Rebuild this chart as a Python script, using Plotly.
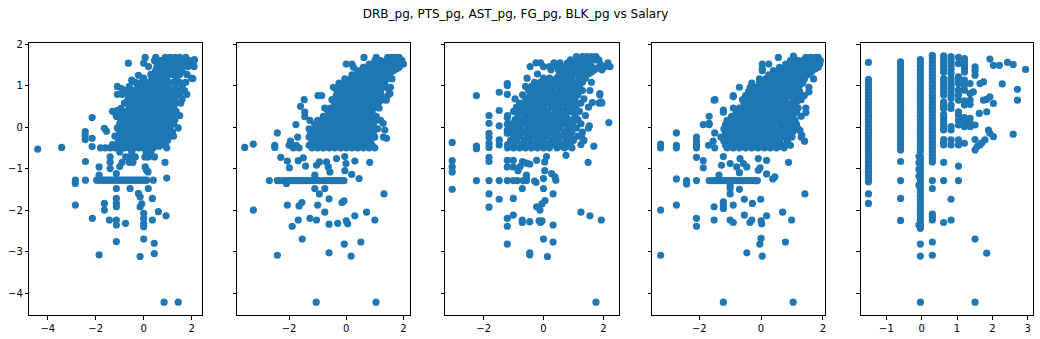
import plotly.graph_objects as go
from plotly.subplots import make_subplots

# ---------------- data (standardised values) ----------------
title_text = "DRB_pg, PTS_pg, AST_pg, FG_pg, BLK_pg vs Salary"
feature_names = ["DRB_pg", "PTS_pg", "AST_pg", "FG_pg", "BLK_pg"]

# rows: (salary, [feature values...])
drb_rows = [
    (1.68, [0.06, 0.5, 0.9, 1.1, 1.3, 1.5, 1.75]),
    (1.60, [0.45, 0.7, 0.85, 1.0, 1.2, 1.4, 1.6, 1.9, 2.1]),
    (1.54, [-0.64, 0.0, 0.6, 0.8, 1.0, 1.15, 1.3, 1.5, 1.7, 1.95]),
    (1.46, [0.2, 0.55, 0.75, 0.95, 1.1, 1.25, 1.45, 1.6, 1.85, 2.1]),
    (1.37, [0.5, 0.7, 0.9, 1.05, 1.2, 1.4, 1.6]),
    (1.27, [0.3, 0.6, 0.8, 1.0, 1.2, 1.5, 1.8]),
    (1.18, [0.0, 0.35, 0.55, 0.75, 0.95, 1.35, 2.0]),
    (1.08, [-0.35, -0.1, 0.2, 0.4, 0.6, 0.85, 1.05, 1.25, 1.5, 1.75]),
    (0.98, [-1.1, -0.6, -0.25, 0.05, 0.25, 0.45, 0.65, 0.85, 1.0, 1.3, 1.6]),
    (0.88, [-0.75, -0.45, -0.15, 0.1, 0.3, 0.5, 0.7, 0.9, 1.15, 1.4, 1.7]),
    (0.79, [-1.1, -0.9, -0.6, -0.3, -0.05, 0.15, 0.35, 0.55, 0.75, 0.95, 1.2, 1.5, 1.8]),
    (0.68, [-0.65, -0.4, -0.15, 0.05, 0.25, 0.45, 0.65, 0.85, 1.05, 1.3, 1.6]),
    (0.58, [-0.8, -0.55, -0.3, -0.1, 0.1, 0.3, 0.5, 0.7, 0.9, 1.1, 1.35, 1.55]),
    (0.48, [-0.6, -0.35, -0.15, 0.05, 0.25, 0.45, 0.65, 0.85, 1.05, 1.25]),
    (0.38, [-1.3, -0.9, -0.7, -0.45, -0.25, -0.05, 0.15, 0.35, 0.55, 0.75, 0.95, 1.15, 1.35]),
    (0.28, [-1.15, -0.85, -0.6, -0.4, -0.2, 0.0, 0.2, 0.4, 0.6, 0.8, 1.0, 1.2, 1.5]),
    (0.18, [-0.95, -0.75, -0.5, -0.3, -0.1, 0.1, 0.3, 0.5, 0.7, 0.9, 1.1, 1.3]),
    (0.08, [-1.0, -0.8, -0.6, -0.4, -0.2, 0.0, 0.2, 0.4, 0.6, 0.8, 1.0, 1.25]),
    (-0.02, [-1.1, -0.9, -0.7, -0.5, -0.3, -0.1, 0.1, 0.3, 0.5, 0.7, 0.9, 1.1, 1.44]),
    (-0.12, [-1.0, -0.8, -0.6, -0.4, -0.2, 0.0, 0.2, 0.4, 0.6, 0.8, 1.0, 1.2]),
    (-0.22, [-1.2, -0.9, -0.7, -0.5, -0.3, -0.1, 0.1, 0.3, 0.5, 0.7, 0.9, 1.1, 1.24]),
    (-0.32, [-1.05, -0.8, -0.6, -0.4, -0.2, 0.0, 0.2, 0.4, 0.6, 0.8, 1.0]),
    (-0.42, [-1.3, -1.1, -0.9, -0.7, -0.5, -0.3, -0.1, 0.1, 0.3, 0.5, 0.7, 0.9]),
    (-0.50, [-1.8, -1.6, -1.4, -1.2, -1.0, -0.8, -0.6, -0.4, -0.2, 0.0, 0.2, 0.4, 0.96]),
    (-0.60, [-1.0, -0.5, 0.1, 0.3]),
    (-0.72, [-1.4, -0.75, -0.55, -0.35, 0.05, 0.2, 0.45]),
    (-0.85, [-1.4, -0.9, -0.6, -0.45, 0.89]),
    (-1.28, [-2.85, -2.43, -1.96, -1.85, -1.75, -1.65, -1.55, -1.45, -1.35, -1.25, -1.15,
             -1.05, -0.95, -0.85, -0.75, -0.65, -0.55, -0.45, -0.35, -0.25, -0.15, -0.05,
             0.05, 0.12, 0.4]),
    # in-between rows of the dense core
    (-0.46, [-0.95, -0.55, -0.15, 0.25, 0.65]),
    (-0.37, [-0.9, -0.5, -0.1, 0.3, 0.7]),
    (-0.27, [-0.8, -0.4, 0.0, 0.4, 0.8]),
    (-0.17, [-0.9, -0.5, -0.1, 0.3, 0.7, 1.1]),
    (-0.07, [-0.8, -0.4, 0.0, 0.4, 0.8]),
    (0.03, [-0.9, -0.5, -0.1, 0.3, 0.7, 1.1]),
    (0.13, [-0.6, -0.2, 0.2, 0.6, 1.0]),
    (0.23, [-0.7, -0.3, 0.1, 0.5, 0.9]),
    (0.33, [-0.55, -0.15, 0.25, 0.65, 1.05]),
    (0.43, [-0.5, -0.1, 0.35, 0.75]),
    (0.53, [-0.4, 0.0, 0.4, 0.8, 1.2]),
    (0.63, [-0.3, 0.15, 0.55, 0.95]),
    (0.73, [-0.2, 0.25, 0.65, 1.05]),
    (0.83, [0.0, 0.4, 0.8, 1.3]),
    (0.93, [0.15, 0.55, 0.95]),
]
drb_extra = [
    (-4.42, -0.53), (-3.42, -0.49), (-2.15, 0.23), (-2.44, -0.11), (-2.44, -0.2),
    (-2.44, -0.3), (-2.15, -0.27), (-2.15, -0.47), (-1.64, -0.03), (-1.55, -0.1),
    (-1.12, 0.4), (-1.12, 0.25), (-0.95, 0.45), (-2.43, -0.83), (-2.85, -1.36),
    (-2.85, -1.88), (-2.14, -2.2), (-1.86, -3.08), (-1.86, -0.96), (-1.86, -1.16),
    (-1.4, -1.0), (-1.64, -1.84), (-1.64, -2.0), (-1.43, -2.24), (-1.14, -1.48),
    (-1.14, -1.72), (-1.14, -1.84), (-1.14, -1.92), (-1.14, -2.24), (-1.14, -2.36),
    (-1.14, -2.76), (-0.76, -2.32), (-1.14, -1.12), (-1.0, -0.95), (-0.57, -1.48),
    (-0.22, -1.6), (-0.15, -1.68), (-0.15, -1.92), (-0.08, -1.85), (0.0, -2.08),
    (0.0, -2.2), (0.0, -2.32), (0.0, -2.4), (0.0, -2.7), (-0.15, -3.12), (0.44, -2.8),
    (0.44, -3.05), (0.36, -2.24), (0.36, -1.72), (0.19, -1.48), (0.96, -1.23),
    (0.93, -2.14), (0.61, -2.04), (0.85, -4.22), (1.44, -4.22), (0.12, -1.04),
    (0.18, -1.08), (0.06, -0.96), (-0.92, 0.93), (-0.67, 0.81), (-0.57, 0.67),
    (-0.5, 1.13), (-0.22, 1.25), (2.05, 1.17), (2.11, 1.63),
]

pts_rows = [
    (1.68, [0.62, 1.05, 1.45, 1.6, 1.75, 1.85]),
    (1.60, [1.0, 1.2, 1.4, 1.55, 1.7, 1.85, 1.95]),
    (1.52, [0.0, 0.2, 0.8, 1.0, 1.15, 1.3, 1.45, 1.6, 1.75, 1.9, 2.0]),
    (1.44, [0.25, 0.6, 0.8, 0.95, 1.1, 1.25, 1.4, 1.55, 1.7, 1.85]),
    (1.36, [0.4, 0.6, 0.75, 0.9, 1.05, 1.2, 1.35, 1.5, 1.65]),
    (1.26, [0.2, 0.45, 0.65, 0.8, 0.95, 1.1, 1.3, 1.5]),
    (1.16, [-0.05, 0.15, 0.35, 0.55, 0.7, 0.85, 1.0, 1.2, 1.4, 1.6]),
    (1.06, [-0.25, -0.05, 0.15, 0.35, 0.5, 0.65, 0.8, 1.0, 1.15, 1.35]),
    (0.96, [-0.45, -0.25, -0.05, 0.15, 0.3, 0.45, 0.6, 0.75, 0.9, 1.1, 1.3, 1.55]),
    (0.86, [-0.3, -0.1, 0.05, 0.2, 0.35, 0.5, 0.65, 0.8, 1.0, 1.2]),
    (0.76, [-0.99, -0.86, -0.35, -0.15, 0.0, 0.15, 0.3, 0.45, 0.6, 0.75, 0.95, 1.2, 1.45]),
    (0.66, [-1.47, -0.5, -0.3, -0.15, 0.0, 0.15, 0.3, 0.45, 0.6, 0.8, 1.0, 1.3]),
    (0.56, [-0.4, -0.2, -0.05, 0.1, 0.25, 0.4, 0.55, 0.7, 0.9, 1.1]),
    (0.46, [-0.75, -0.55, -0.35, -0.2, -0.05, 0.1, 0.25, 0.4, 0.55, 0.75, 0.95, 1.15]),
    (0.36, [-1.45, -0.6, -0.4, -0.25, -0.1, 0.05, 0.2, 0.35, 0.5, 0.7, 0.9]),
    (0.26, [-0.8, -0.6, -0.45, -0.3, -0.15, 0.0, 0.15, 0.3, 0.45, 0.6, 0.8, 1.05]),
    (0.16, [-1.27, -1.0, -0.75, -0.55, -0.4, -0.25, -0.1, 0.05, 0.2, 0.35, 0.5, 0.7, 0.9, 1.2]),
    (0.06, [-1.76, -1.1, -0.9, -0.7, -0.55, -0.4, -0.25, -0.1, 0.05, 0.2, 0.35, 0.5, 0.7, 0.95]),
    (-0.04, [-1.3, -1.1, -0.9, -0.7, -0.5, -0.35, -0.2, -0.05, 0.1, 0.25, 0.4, 0.6, 0.85, 1.1]),
    (-0.14, [-2.41, -1.25, -1.05, -0.85, -0.65, -0.45, -0.3, -0.15, 0.0, 0.15, 0.3, 0.5, 0.7, 0.95]),
    (-0.24, [-1.7, -1.3, -1.1, -0.9, -0.7, -0.5, -0.35, -0.2, -0.05, 0.1, 0.3, 0.5, 0.75, 1.0, 1.3]),
    (-0.34, [-1.95, -1.2, -1.0, -0.8, -0.6, -0.45, -0.3, -0.15, 0.0, 0.2, 0.4, 0.6, 0.85]),
    (-0.44, [-2.5, -2.0, -1.75, -1.3, -1.1, -0.9, -0.7, -0.5, -0.3, -0.1, 0.1, 0.3, 0.5, 0.7, 0.9]),
    (-0.50, [-1.85, -1.65, -1.2, -1.0, -0.8, -0.6, -0.4, -0.2, 0.0, 0.2, 0.4, 0.6, 0.8, 1.0]),
    (-1.29, [-2.69, -2.41, -2.35, -2.2, -2.1, -2.0, -1.9, -1.8, -1.7, -1.6, -1.5, -1.4,
             -1.3, -1.2, -1.1, -0.95, -0.8, -0.7, -0.6, -0.5, -0.4, -0.3, -0.2, -0.08]),
    # in-between rows of the dense core
    (-0.47, [-1.1, -0.7, -0.3, 0.1, 0.5, 0.9]),
    (-0.39, [-1.15, -0.75, -0.35, 0.05, 0.45, 0.75]),
    (-0.29, [-1.0, -0.6, -0.2, 0.2, 0.6]),
    (-0.19, [-1.15, -0.75, -0.4, -0.05, 0.4, 0.85]),
    (-0.09, [-0.95, -0.55, -0.1, 0.3, 0.8]),
    (0.01, [-1.0, -0.6, -0.2, 0.15, 0.55, 0.8]),
    (0.11, [-0.85, -0.45, 0.0, 0.4, 0.8]),
    (0.21, [-0.7, -0.35, 0.1, 0.5, 0.95]),
    (0.31, [-0.5, -0.15, 0.25, 0.6, 0.8]),
    (0.41, [-0.65, -0.3, 0.15, 0.45, 0.85]),
    (0.51, [-0.3, 0.05, 0.45, 0.8]),
    (0.61, [-0.4, -0.05, 0.35, 0.7, 1.15]),
    (0.71, [-0.25, 0.1, 0.5, 0.85]),
    (0.81, [-0.2, 0.25, 0.7, 1.1]),
    (0.91, [-0.35, 0.1, 0.55, 1.0]),
    (1.01, [-0.15, 0.25, 0.7, 1.05]),
    (1.11, [0.05, 0.45, 0.9, 1.3]),
    (1.21, [0.3, 0.7, 1.05, 1.4]),
    (1.31, [0.5, 0.85, 1.3, 1.55]),
    (1.40, [0.7, 1.15, 1.45, 1.75]),
    (1.48, [0.9, 1.2, 1.5, 1.8]),
    (1.56, [1.1, 1.3, 1.65, 1.8]),
]
pts_extra = [
    (-3.55, -0.49), (-3.25, -0.41), (-3.25, -2.0), (-2.41, -3.09), (-2.5, -0.49),
    (-2.06, -1.88), (-1.89, -2.39), (-1.68, -2.24), (-1.54, -2.7), (-1.65, -1.9),
    (-1.55, -1.82), (-1.27, -2.2), (-1.04, -2.24), (-1.0, -1.88), (-0.94, -1.61),
    (-1.1, -1.48), (-0.75, -1.48), (-0.6, -1.73), (-0.75, -2.05), (-0.6, -2.34),
    (-0.3, -2.32), (-0.6, -3.03), (-1.05, -4.22), (1.04, -4.22), (-0.07, -2.82),
    (0.17, -3.11), (0.0, -2.26), (0.05, -2.33), (-0.15, -1.82), (-0.08, -1.78),
    (0.3, -2.14), (0.51, -2.77), (0.71, -2.05), (1.0, -2.24), (1.32, -1.61),
    (0.45, -1.24), (0.19, -1.14), (-0.05, -1.05), (0.82, -0.85), (0.3, -0.82),
    (-0.05, -0.71), (-0.01, -0.88), (-2.29, -0.73), (-2.06, -0.82), (-1.99, -0.98),
    (-1.68, -0.81), (-1.5, -0.74), (-1.42, -0.94), (-1.04, -0.92), (-0.94, -0.84),
    (-0.69, -0.84), (-0.63, -0.96), (-0.57, -1.08), (-0.34, -0.76), (-1.1, -1.16),
    (-2.09, -1.36), (1.41, -0.27), (1.35, -0.07), (1.29, 0.09), (1.06, 0.17),
    (1.53, 0.81), (1.47, 0.93), (1.4, 0.65), (-1.45, 0.25), (-1.6, 0.5),
]

ast_rows = [
    (1.70, [1.1, 1.3, 1.45, 1.6, 1.75]),
    (1.62, [0.9, 1.2, 1.4, 1.55, 1.7, 1.85]),
    (1.55, [-0.25, -0.1, 0.35, 0.55, 0.8, 1.0, 1.25, 1.5, 2.15]),
    (1.46, [-0.45, 0.0, 0.2, 0.45, 0.7, 0.95, 1.15, 1.4, 1.6, 2.05, 2.22]),
    (1.38, [0.25, 0.5, 0.75, 1.0, 1.25, 1.45, 1.7, 1.95]),
    (1.28, [-0.2, 0.6, 0.85, 1.1, 1.3, 1.5]),
    (1.18, [-0.55, 0.0, 0.2, 0.45, 0.7, 0.95, 1.2, 1.4]),
    (1.08, [-0.3, -0.1, 0.1, 0.35, 0.6, 0.85, 1.05, 1.3, 1.6]),
    (0.98, [-0.6, -0.4, -0.15, 0.05, 0.25, 0.5, 0.75, 0.95, 1.2]),
    (0.88, [-0.5, -0.3, -0.1, 0.1, 0.3, 0.55, 0.8, 1.0, 1.3, 1.55]),
    (0.78, [-0.7, -0.45, -0.25, 0.0, 0.2, 0.45, 0.7, 0.9, 1.15, 1.88]),
    (0.68, [-0.95, -0.6, -0.35, -0.15, 0.05, 0.3, 0.55, 0.8, 1.05, 1.35]),
    (0.58, [-0.8, -0.55, -0.3, -0.1, 0.15, 0.4, 0.65, 0.9, 1.25, 1.85, 1.95]),
    (0.48, [-0.9, -0.65, -0.4, -0.2, 0.0, 0.25, 0.5, 0.75, 1.0, 1.5]),
    (0.38, [-1.0, -0.75, -0.5, -0.3, -0.1, 0.15, 0.4, 0.65, 0.9, 1.2]),
    (0.28, [-1.2, -0.85, -0.6, -0.4, -0.2, 0.0, 0.25, 0.5, 0.75, 1.05, 1.4]),
    (0.18, [-0.95, -0.7, -0.5, -0.3, -0.1, 0.1, 0.35, 0.6, 0.85, 1.15]),
    (0.08, [-1.1, -0.85, -0.6, -0.4, -0.2, 0.0, 0.2, 0.45, 0.7, 0.95, 1.25]),
    (-0.02, [-1.0, -0.75, -0.5, -0.3, -0.1, 0.1, 0.3, 0.55, 0.8, 1.1, 1.5]),
    (-0.12, [-1.1, -0.9, -0.65, -0.4, -0.2, 0.0, 0.2, 0.45, 0.7, 0.95, 1.3]),
    (-0.22, [-1.0, -0.8, -0.55, -0.3, -0.1, 0.1, 0.35, 0.6, 0.85, 1.15]),
    (-0.32, [-1.1, -0.9, -0.65, -0.45, -0.2, 0.0, 0.25, 0.5, 0.75, 1.0, 1.35]),
    (-0.42, [-1.2, -1.0, -0.75, -0.5, -0.3, -0.1, 0.15, 0.4, 0.65, 0.9, 1.25]),
    (-0.50, [-1.2, -1.0, -0.8, -0.6, -0.4, -0.2, 0.0, 0.2, 0.45, 0.7, 0.95]),
    (-1.29, [-2.24, -1.82, -1.48, -1.21, -1.01, -0.88, -0.68, -0.57]),
    # in-between rows of the dense core
    (-0.46, [-1.1, -0.7, -0.3, 0.1, 0.55, 0.8]),
    (-0.37, [-1.0, -0.55, -0.1, 0.35, 0.85]),
    (-0.27, [-0.9, -0.45, 0.0, 0.45, 0.95]),
    (-0.17, [-1.0, -0.55, -0.1, 0.35, 0.8]),
    (-0.07, [-0.85, -0.4, 0.0, 0.45, 0.95]),
    (0.03, [-0.95, -0.5, -0.05, 0.4, 0.85]),
    (0.13, [-0.8, -0.35, 0.05, 0.55, 1.0]),
    (0.23, [-0.6, -0.15, 0.3, 0.7]),
    (0.33, [-0.85, -0.4, 0.05, 0.55, 1.05]),
    (0.43, [-0.55, -0.05, 0.4, 0.85]),
    (0.53, [-0.7, -0.2, 0.3, 0.8, 1.1]),
    (0.63, [-0.45, 0.0, 0.45, 0.95]),
    (0.73, [-0.35, 0.1, 0.6, 1.0]),
    (0.83, [-0.15, 0.35, 0.85, 1.15]),
    (0.93, [-0.2, 0.2, 0.65, 1.1]),
    (1.03, [0.0, 0.45, 0.95]),
    (1.13, [0.3, 0.8, 1.25]),
    (1.23, [0.5, 0.95, 1.35]),
    (1.33, [0.65, 1.15, 1.6]),
    (1.42, [0.85, 1.3, 1.8]),
    (1.51, [1.1, 1.4, 1.9]),
    (1.66, [1.35, 1.55]),
]
ast_extra = [
    (-3.05, -0.37), (-3.05, -0.81), (-3.05, -0.96), (-3.05, -1.08), (-3.05, -1.5),
    (-2.24, 0.76), (-2.24, -0.46), (-2.24, -0.52), (-1.82, 0.28), (-1.82, 0.09),
    (-1.82, -0.15), (-1.82, -0.25), (-1.82, -0.39), (-1.82, -0.49), (-1.82, -0.73),
    (-1.82, -0.83), (-1.82, -1.61), (-1.82, -1.93), (-1.48, 0.84), (-1.48, 0.4),
    (-1.48, 0.03), (-1.48, -0.31), (-1.48, -0.43), (-1.48, -1.74), (-1.21, 1.05),
    (-1.21, 1.0), (-1.21, 0.79), (-1.21, 0.23), (-1.21, 0.07), (-1.21, -0.07),
    (-1.21, -0.15), (-1.21, -0.8), (-1.21, -0.96), (-1.21, -2.2), (-1.21, -2.39),
    (-1.21, -2.82), (-1.01, -1.72), (-1.01, -2.12), (-0.71, -2.24), (-0.71, -2.3),
    (-0.46, -2.28), (-0.46, -3.03), (-0.46, -3.08), (-0.71, -1.48), (-0.57, -1.16),
    (-0.57, -1.24), (-0.3, -1.3), (-0.25, -1.33), (-0.23, -1.92), (-0.12, -2.0),
    (-0.05, -1.85), (0.05, -1.77), (-0.15, -2.26), (-0.1, -2.3), (-0.05, -2.26),
    (0.0, -2.7), (0.13, -3.12), (0.32, -2.36), (0.32, -2.77), (0.32, -1.61),
    (0.0, -1.48), (0.04, -1.05), (0.27, -1.12), (0.38, -1.2), (0.41, -1.28),
    (0.0, -1.24), (0.1, -0.71), (0.04, -0.84), (-0.23, -0.8), (-0.46, -0.89),
    (-0.57, -0.87), (-0.7, -0.83), (-0.78, -0.95), (-1.01, -0.8), (-1.01, -0.96),
    (-0.85, -1.05), (0.75, -0.68), (1.25, -2.05), (1.55, -2.14), (1.93, -2.24),
    (1.75, -4.22), (1.49, -0.85), (1.68, -0.46), (1.53, 0.03), (1.27, -0.22),
    (1.33, -0.33), (2.18, 0.11), (1.92, 0.61), (1.88, 0.81), (1.63, 0.59),
]

fg_rows = [
    (1.68, [0.56, 1.05, 1.45, 1.6, 1.75, 1.85]),
    (1.60, [0.95, 1.2, 1.35, 1.5, 1.65, 1.8, 1.92]),
    (1.52, [0.04, 0.25, 0.8, 1.0, 1.15, 1.3, 1.45, 1.6, 1.75, 1.9]),
    (1.44, [0.6, 0.8, 0.95, 1.1, 1.25, 1.4, 1.55, 1.7, 1.85]),
    (1.36, [0.04, 0.4, 0.6, 0.75, 0.9, 1.05, 1.2, 1.35, 1.5, 1.65]),
    (1.26, [0.25, 0.45, 0.6, 0.8, 0.95, 1.1, 1.3, 1.5]),
    (1.16, [-0.05, 0.15, 0.35, 0.55, 0.7, 0.85, 1.0, 1.2, 1.4, 1.7]),
    (1.06, [-0.3, -0.05, 0.15, 0.35, 0.5, 0.65, 0.8, 1.0, 1.15, 1.35]),
    (0.96, [-0.7, -0.35, -0.15, 0.05, 0.2, 0.35, 0.5, 0.65, 0.8, 1.0, 1.2, 1.55]),
    (0.86, [-0.4, -0.2, 0.0, 0.15, 0.3, 0.45, 0.6, 0.8, 1.0, 1.25]),
    (0.76, [-0.9, -0.5, -0.3, -0.1, 0.05, 0.2, 0.35, 0.5, 0.7, 0.9, 1.15, 1.4]),
    (0.66, [-1.49, -0.6, -0.4, -0.2, -0.05, 0.1, 0.25, 0.4, 0.6, 0.8, 1.05, 1.3]),
    (0.56, [-0.55, -0.35, -0.15, 0.0, 0.15, 0.3, 0.5, 0.7, 0.9, 1.1]),
    (0.46, [-0.9, -0.7, -0.5, -0.3, -0.1, 0.05, 0.2, 0.35, 0.55, 0.75, 0.95, 1.2, 1.45]),
    (0.36, [-1.22, -0.8, -0.6, -0.4, -0.2, 0.0, 0.15, 0.3, 0.5, 0.7, 0.9, 1.15]),
    (0.26, [-1.68, -0.95, -0.75, -0.55, -0.35, -0.15, 0.0, 0.15, 0.35, 0.55, 0.75, 1.0, 1.3]),
    (0.16, [-1.1, -0.9, -0.7, -0.5, -0.3, -0.1, 0.05, 0.2, 0.4, 0.6, 0.85, 1.1]),
    (0.06, [-1.87, -1.68, -1.15, -0.95, -0.75, -0.55, -0.35, -0.15, 0.0, 0.2, 0.4, 0.6, 0.85, 1.15]),
    (-0.04, [-1.2, -1.0, -0.8, -0.6, -0.4, -0.2, 0.0, 0.2, 0.4, 0.65, 0.9, 1.2]),
    (-0.14, [-2.74, -1.5, -1.15, -0.95, -0.75, -0.55, -0.35, -0.15, 0.05, 0.25, 0.45, 0.7, 1.0]),
    (-0.24, [-2.09, -1.3, -1.1, -0.9, -0.7, -0.5, -0.3, -0.1, 0.1, 0.3, 0.5, 0.75, 1.0, 1.3]),
    (-0.34, [-1.55, -1.2, -1.0, -0.8, -0.6, -0.4, -0.2, 0.0, 0.2, 0.4, 0.6, 0.85, 1.41]),
    (-0.44, [-2.74, -2.09, -1.7, -1.15, -0.95, -0.75, -0.55, -0.35, -0.15, 0.05, 0.25, 0.45, 0.7, 0.95]),
    (-0.50, [-3.25, -2.74, -2.09, -1.5, -1.1, -0.9, -0.7, -0.5, -0.3, -0.1, 0.1, 0.3, 0.5, 0.75]),
    (-1.29, [-2.41, -2.09, -1.68, -1.58, -1.48, -1.38, -1.28, -1.18, -1.08, -0.98, -0.88,
             -0.78, -0.68, -0.58, -0.48, -0.38, -0.28, -0.18, -0.12]),
    # in-between rows of the dense core
    (-0.47, [-1.0, -0.6, -0.2, 0.2, 0.6]),
    (-0.39, [-1.05, -0.65, -0.25, 0.15, 0.55, 0.85]),
    (-0.29, [-0.8, -0.4, 0.0, 0.4, 0.85]),
    (-0.19, [-1.0, -0.6, -0.2, 0.15, 0.55, 0.85]),
    (-0.09, [-0.7, -0.3, 0.1, 0.5, 0.8, 1.05]),
    (0.01, [-0.9, -0.5, -0.1, 0.3, 0.75, 1.0]),
    (0.11, [-0.6, -0.2, 0.3, 0.7, 0.95]),
    (0.21, [-0.85, -0.45, -0.05, 0.45, 0.85]),
    (0.31, [-0.5, -0.1, 0.4, 0.8, 1.05]),
    (0.41, [-0.6, -0.2, 0.25, 0.65, 1.05]),
    (0.51, [-0.45, 0.1, 0.6, 1.0]),
    (0.61, [-0.3, 0.2, 0.7, 1.15]),
    (0.71, [-0.15, 0.3, 0.8, 1.25]),
    (0.81, [-0.25, 0.25, 0.7, 1.1]),
    (0.91, [-0.05, 0.4, 0.9]),
    (1.01, [0.1, 0.55, 0.9, 1.25]),
    (1.11, [0.25, 0.6, 1.1]),
    (1.21, [0.35, 0.7, 1.2, 1.4]),
    (1.31, [0.5, 0.85, 1.25, 1.6]),
    (1.40, [0.7, 1.15, 1.45, 1.75]),
    (1.48, [0.9, 1.2, 1.5, 1.8]),
    (1.56, [1.1, 1.3, 1.7, 1.85]),
]
fg_extra = [
    (-3.25, -0.41), (-3.25, -2.0), (-3.25, -3.09), (-2.74, -1.25), (-2.74, -1.88),
    (-2.41, -1.37), (-2.09, -0.35), (-2.09, -0.73), (-2.09, -2.2), (-2.09, -2.39),
    (-1.87, -0.81), (-1.87, -0.98), (-1.68, 0.09), (-1.52, 0.65), (-1.22, 0.41),
    (-1.52, -1.92), (-1.52, -2.24), (-1.22, -0.71), (-1.28, -0.92), (-1.22, -1.8),
    (-1.22, -1.88), (-1.22, -1.96), (-1.22, -4.22), (1.04, -4.22), (-1.36, -1.16),
    (-1.0, -1.48), (-1.0, -1.61), (-0.9, -1.88), (-1.0, -2.24), (-0.9, -2.3),
    (-0.7, -1.5), (-0.54, -1.74), (-0.54, -2.12), (-0.36, -2.3), (-0.3, -2.24),
    (-0.28, -1.84), (-0.01, -1.74), (0.0, -2.26), (0.02, -2.33), (0.0, -2.68),
    (-0.04, -2.82), (-0.46, -3.03), (0.04, -3.11), (0.18, -2.14), (0.7, -2.05),
    (0.99, -2.24), (0.79, -2.77), (1.42, -1.61), (0.89, -0.85), (0.38, -1.25),
    (0.45, -1.2), (0.18, -1.13), (-0.09, -1.04), (-0.03, -0.98), (0.18, -0.8),
    (-0.09, -0.76), (-1.0, -0.88), (-0.79, -0.96), (-0.68, -0.76), (-0.57, -0.88),
    (-0.46, -0.96), (-0.7, -1.1), (-1.0, -1.4), (1.05, 1.71), (0.04, 1.41),
    (-0.9, 0.73), (1.32, -0.2), (1.26, -0.08), (1.45, 0.35), (1.55, 0.85),
]

# columns: (BLK value, [salary values...])
blk_columns = [
    (-1.51, [1.56, 1.15, 1.07, 0.99, 0.91, 0.83, 0.75, 0.67, 0.59, 0.51, 0.43, 0.35, 0.27,
             0.19, 0.11, 0.03, -0.05, -0.13, -0.21, -0.29, -0.37, -0.45, -0.53, -0.61,
             -0.69, -0.77, -0.85, -0.93, -1.01, -1.09, -1.17, -1.25, -1.32, -1.61, -1.84]),
    (-0.60, [1.57, 1.5, 1.42, 1.34, 1.26, 1.18, 1.1, 1.02, 0.94, 0.86, 0.78, 0.7, 0.62,
             0.54, 0.46, 0.38, 0.3, 0.22, 0.14, 0.06, -0.02, -0.1, -0.18, -0.26, -0.34,
             -0.42, -0.5, -0.55, -0.83, -1.29, -1.72, -2.25]),
    (-0.04, [1.63, 1.55, 1.47, 1.39, 1.31, 1.23, 1.15, 1.07, 0.99, 0.91, 0.83, 0.75, 0.67,
             0.59, 0.51, 0.43, 0.35, 0.27, 0.19, 0.11, 0.03, -0.05, -0.13, -0.21, -0.29,
             -0.37, -0.45, -0.53, -0.59, -0.71, -0.78, -0.86, -0.94, -1.02, -1.1, -1.18,
             -1.26, -1.34, -1.42, -1.5, -1.58, -1.66, -1.74, -1.82, -1.9, -1.98, -2.06,
             -2.14, -2.22, -2.3, -2.37, -2.44, -2.82, -3.11, -4.22]),
    (-0.08, [-0.71, -0.86, -1.02, -1.18, -1.4, -2.36]),
    (0.30, [1.73, 1.65, 1.57, 1.49, 1.41, 1.33, 1.25, 1.17, 1.09, 1.01, 0.93, 0.85, 0.77,
            0.69, 0.61, 0.53, 0.45, 0.37, 0.29, 0.21, 0.13, 0.05, -0.03, -0.11, -0.19,
            -0.27, -0.35, -0.43, -0.51, -0.59, -0.67, -0.75, -0.84, -1.29, -1.48, -2.1,
            -2.17, -2.24, -2.77, -3.09]),
    (0.62, [1.72, 1.64, 1.56, 1.48, 1.4, 1.32, 1.17, 1.09, 1.01, 0.93, 0.85, 0.77, 0.6,
            0.52, 0.44, 0.3, 0.22, 0.14, 0.06, -0.02, -0.07, -0.3, -0.38, -0.43, -0.85,
            -1.29, -2.3]),
    (0.83, [1.7, 1.62, 1.54, 1.46, 1.38, 1.29, 1.17, 1.09, 1.01, 0.93, 0.85, 0.77, 0.69,
            0.53, 0.45, 0.01, -0.07, -0.31, -0.43, -1.74, -2.24]),
    (1.04, [1.68, 1.53, 1.21, 1.13, 1.05, 0.89, 0.77, 0.65, 0.37, 0.29, 0.17, 0.05, -0.31,
            -0.43, -0.94, -1.29]),
    (1.21, [1.65, 1.57, 1.49, 1.41, 1.33, 1.13, 1.01, 0.89, 0.63, 0.53, 0.23, 0.15, 0.01,
            -0.39]),
    (1.37, [1.05, 0.81, 0.65, 0.55, 0.21, 0.09, 0.01]),
    (1.51, [1.45, 1.37, 1.25, 0.05, -0.3, -0.55, -2.7, -4.22]),
]
blk_extra = [
    (1.63, 0.33), (1.65, -0.43), (1.75, 1.09), (1.65, 1.05), (1.79, -0.31),
    (1.89, -0.07), (1.93, -0.15), (2.03, -0.23), (1.84, 0.37), (1.75, 0.65),
    (1.84, 0.67), (1.93, 0.73), (2.03, 0.57), (1.46, 0.85), (1.93, 1.64),
    (2.03, 1.49), (2.2, 1.49), (2.43, 1.56), (2.59, 1.51), (2.94, 1.39),
    (2.28, 1.04), (2.71, 0.91), (2.71, 0.65), (2.59, -0.17), (1.84, -3.04),
    (1.57, -0.47), (1.7, -0.38),
]

# axis settings
x_ranges = [[-4.77, 2.43], [-3.81, 2.24], [-3.28, 2.51], [-3.52, 2.08], [-1.73, 3.16]]
x_dticks = [2, 2, 2, 2, 1]
y_range = [-4.53, 2.02]
y_ticks = [-4, -3, -2, -1, 0, 1, 2]


def expand_rows(rows, extra):
    xs, ys = [], []
    for yv, row in rows:
        for xv in row:
            xs.append(xv)
            ys.append(yv)
    for xv, yv in extra:
        xs.append(xv)
        ys.append(yv)
    return xs, ys


def expand_cols(cols, extra):
    xs, ys = [], []
    for xv, col in cols:
        for yv in col:
            xs.append(xv)
            ys.append(yv)
    for xv, yv in extra:
        xs.append(xv)
        ys.append(yv)
    return xs, ys


panels = [
    expand_rows(drb_rows, drb_extra),
    expand_rows(pts_rows, pts_extra),
    expand_rows(ast_rows, ast_extra),
    expand_rows(fg_rows, fg_extra),
    expand_cols(blk_columns, blk_extra),
]

# ---------------- figure ----------------
W, H = 1040, 339
fig = make_subplots(rows=1, cols=5, shared_yaxes=True)

for i, (xs, ys) in enumerate(panels):
    fig.add_trace(
        go.Scatter(
            x=xs, y=ys, mode="markers", name=feature_names[i],
            marker=dict(color="#1f77b4", size=7.2, line=dict(width=0)),
            showlegend=False, hoverinfo="x+y",
        ),
        row=1, col=i + 1,
    )

x_px = [(29.3, 202.0), (237.3, 410.3), (445.3, 618.7), (652.3, 825.3), (860.7, 1033.3)]
y_dom = [1 - 315.0 / H, 1 - 43.3 / H]

axis_common = dict(
    showline=True, linecolor="black", linewidth=1, mirror=True,
    ticks="outside", ticklen=3.5, tickwidth=1, tickcolor="black",
    showgrid=False, zeroline=False, automargin=False,
    tickfont=dict(family="DejaVu Sans", size=10, color="black"),
)

for i in range(5):
    key = "xaxis" if i == 0 else f"xaxis{i + 1}"
    fig.layout[key].update(
        domain=[x_px[i][0] / W, x_px[i][1] / W],
        range=x_ranges[i], tick0=0, dtick=x_dticks[i],
        **axis_common,
    )
    ykey = "yaxis" if i == 0 else f"yaxis{i + 1}"
    fig.layout[ykey].update(
        domain=y_dom, range=y_range, tickvals=y_ticks,
        showticklabels=(i == 0),
        **axis_common,
    )

fig.update_layout(
    width=W, height=H,
    margin=dict(l=0, r=0, t=0, b=0),
    paper_bgcolor="white", plot_bgcolor="white",
    font=dict(family="DejaVu Sans", size=10, color="black"),
    title=dict(
        text=title_text, x=515.5 / W, xanchor="center",
        y=1 - 13.5 / H, yanchor="middle",
        font=dict(family="DejaVu Sans", size=12, color="black"),
    ),
)

fig.write_html("out.html")
